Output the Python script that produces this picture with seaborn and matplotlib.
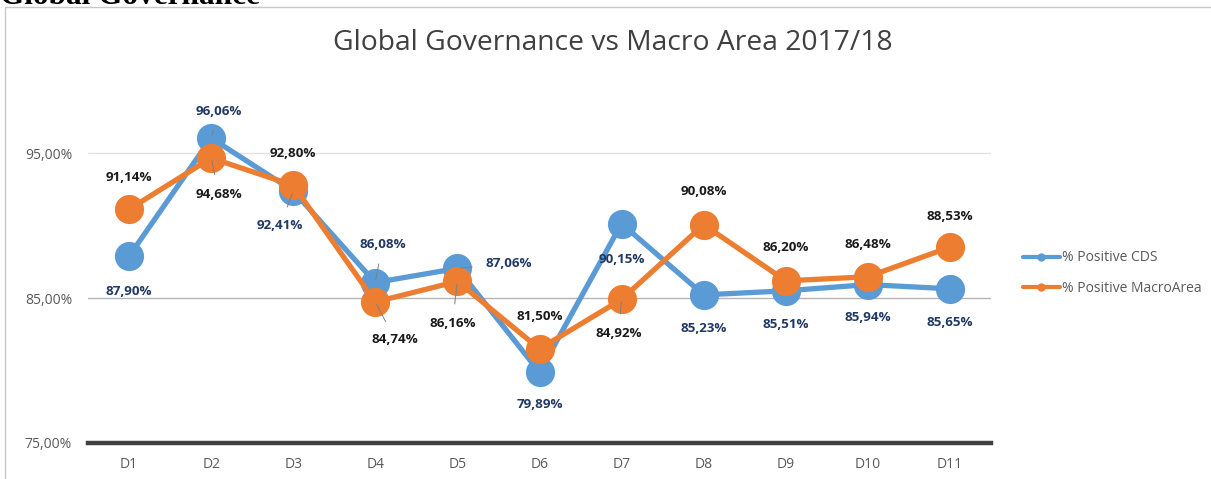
import matplotlib
matplotlib.use("Agg")
import matplotlib.pyplot as plt
from matplotlib.lines import Line2D
from matplotlib.ticker import FuncFormatter
import seaborn as sns
import pandas as pd

categories = ["D1", "D2", "D3", "D4", "D5", "D6", "D7", "D8", "D9", "D10", "D11"]
cds_values = [87.90, 96.06, 92.41, 86.08, 87.06, 79.89, 90.15, 85.23, 85.51, 85.94, 85.65]
macro_values = [91.14, 94.68, 92.80, 84.74, 86.16, 81.50, 84.92, 90.08, 86.20, 86.48, 88.53]
series_names = ["% Positive CDS", "% Positive MacroArea"]
y_ticks = [75, 85, 95]

colors = {"% Positive CDS": "#5B9BD5", "% Positive MacroArea": "#ED7D31"}
label_colors = {"% Positive CDS": "#1F3864", "% Positive MacroArea": "#1a1a1a"}

# label offsets in pixels (dx, dy) and whether a leader line is drawn
cds_offsets = [(0, -35), (8, 27), (-13, -35), (7, 38), (51, 5), (0, -32),
               (0, -36), (0, -34), (0, -34), (0, -33), (0, -34)]
cds_leader = [False, True, True, True, True, False, False, False, False, False, False]
macro_offsets = [(0, 32), (8, -36), (0, 32), (20, -38), (-5, -42), (0, 32),
                 (-3, -34), (0, 33), (0, 33), (0, 32), (0, 31)]
macro_leader = [False, True, False, True, True, False, True, False, False, False, False]

df = pd.DataFrame({
    "Dept": categories * 2,
    "Series": [series_names[0]] * len(categories) + [series_names[1]] * len(categories),
    "Value": cds_values + macro_values,
})

sns.set_style("white")
plt.rcParams["font.family"] = ["Open Sans", "DejaVu Sans"]

fig = plt.figure(figsize=(12.11, 4.79), dpi=100)
ax = fig.add_axes([88 / 1211, 1 - 443 / 479, (991 - 88) / 1211, (443 - 81) / 479])

sns.lineplot(data=df, x="Dept", y="Value", hue="Series", palette=colors,
             marker="o", markersize=21, markeredgewidth=0, linewidth=3.8,
             sort=False, legend=False, ax=ax, zorder=3)

ax.set_xlim(-0.5, len(categories) - 0.5)
ax.set_ylim(75, 100)
ax.set_yticks(y_ticks)
ax.yaxis.set_major_formatter(FuncFormatter(lambda v, p: f"{v:.2f}".replace(".", ",") + "%"))
ax.set_xlabel("")
ax.set_ylabel("")
for s in ["top", "right", "left"]:
    ax.spines[s].set_visible(False)
ax.spines["bottom"].set_color("#404040")
ax.spines["bottom"].set_linewidth(3.2)
ax.spines["bottom"].set_zorder(5)
ax.tick_params(axis="both", length=0, labelsize=10, labelcolor="#595959")
ax.tick_params(axis="x", pad=10)
ax.tick_params(axis="y", pad=11.5)
ax.axhline(95, color="#e3e3e3", lw=1, zorder=1)
ax.axhline(85, color="#b5b5b5", lw=1, zorder=1)

for name, vals, offs, leads in [(series_names[0], cds_values, cds_offsets, cds_leader),
                                (series_names[1], macro_values, macro_offsets, macro_leader)]:
    for i, v in enumerate(vals):
        txt = f"{v:.2f}".replace(".", ",") + "%"
        ap = None
        if leads[i]:
            ap = dict(arrowstyle="-", color="#808080", lw=0.7, shrinkA=7, shrinkB=2)
        ax.annotate(txt, xy=(i, v), xytext=offs[i], textcoords="offset pixels",
                    ha="center", va="center", fontsize=9.6, fontweight="bold",
                    color=label_colors[name], arrowprops=ap, zorder=6)

fig.text(613 / 1211, 1 - 43 / 479, "Global Governance vs Macro Area 2017/18",
         fontsize=20.3, color="#404040", ha="center", va="center")

handles = [Line2D([0], [0], color=colors[n], lw=3, marker="o", markersize=5) for n in series_names]
leg = fig.legend(handles, series_names, loc="center left",
                 bbox_to_anchor=(1010 / 1211, 1 - 273 / 479), frameon=False,
                 fontsize=10, handlelength=2.7, handletextpad=0.15, labelspacing=1.1)
for t in leg.get_texts():
    t.set_color("#595959")

# chart border and cut-off document heading
fig.add_artist(Line2D([5 / 1211, 5 / 1211], [0, 1 - 7 / 479], color="#c8c8c8", lw=1,
                      transform=fig.transFigure))
fig.add_artist(Line2D([5 / 1211, 1], [1 - 7 / 479, 1 - 7 / 479], color="#c8c8c8", lw=1,
                      transform=fig.transFigure))
fig.text(0 / 1211, 1 - 4 / 479, "Global Governance", family=["Liberation Serif"],
         fontweight="bold", fontsize=22.5, va="baseline", ha="left", color="#000000")

fig.savefig("out.png", dpi=100)
